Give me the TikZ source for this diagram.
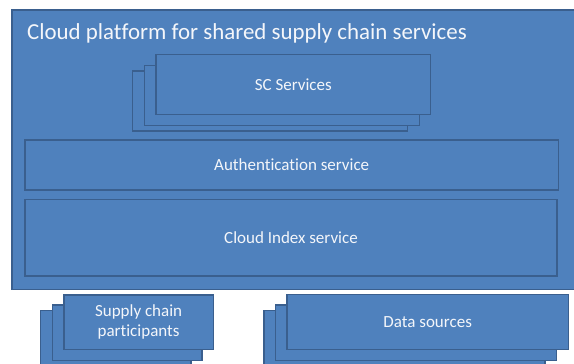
\documentclass[tikz,border=0pt]{standalone}
\usepackage{fontspec}
\setmainfont{Carlito}[Ligatures=NoCommon]
\definecolor{obox}{HTML}{4F81BD}
\definecolor{oline}{HTML}{3A5F8E}
\definecolor{otext}{HTML}{F4F6FA}
\tikzset{
  blk/.style={draw=oline, fill=obox, line width=1.3pt},
  lbl/.style={text=otext, font=\fontsize{17}{20}\selectfont, align=center, inner sep=0pt},
}
\begin{document}
\begin{tikzpicture}[x=1pt,y=-1pt]
\useasboundingbox (0,0) rectangle (574,364);
\clip (0,0) rectangle (574,364);
% outer platform
\draw[blk] (12,10) rectangle (590,289.5);
\node[lbl, anchor=west, font=\fontsize{22.9}{26}\selectfont] (title) at (27,33) {Cloud platform for shared supply chain services};
% SC services stack
\draw[blk] (132.7,71) rectangle (407.7,131);
\draw[blk] (144.3,65.3) rectangle (419.3,125.3);
\draw[blk] (156,54.3) rectangle (430.7,114.3);
\node[lbl] (sc) at (293.3,85) {SC Services};
% auth
\draw[blk] (25,140) rectangle (558.5,190);
\node[lbl] (auth) at (291.7,165) {Authentication service};
% cloud index
\draw[blk] (25,199.3) rectangle (557,276);
\node[lbl] (idx) at (291,238) {Cloud Index service};
% supply chain participants stack
\draw[blk] (40.7,310.7) rectangle (191,380);
\draw[blk] (52.7,305) rectangle (202,360.7);
\draw[blk] (64,295) rectangle (213.3,349.5);
\node[lbl, font=\fontsize{17}{20.5}\selectfont] (scp) at (138.6,322) {Supply chain\\participants};
% data sources stack
\draw[blk] (264,310.7) rectangle (545,380);
\draw[blk] (275.7,305) rectangle (556.7,360.3);
\draw[blk] (287,294.5) rectangle (568.3,349.5);
\node[lbl] (ds) at (427.7,322) {Data sources};
\end{tikzpicture}
\end{document}
